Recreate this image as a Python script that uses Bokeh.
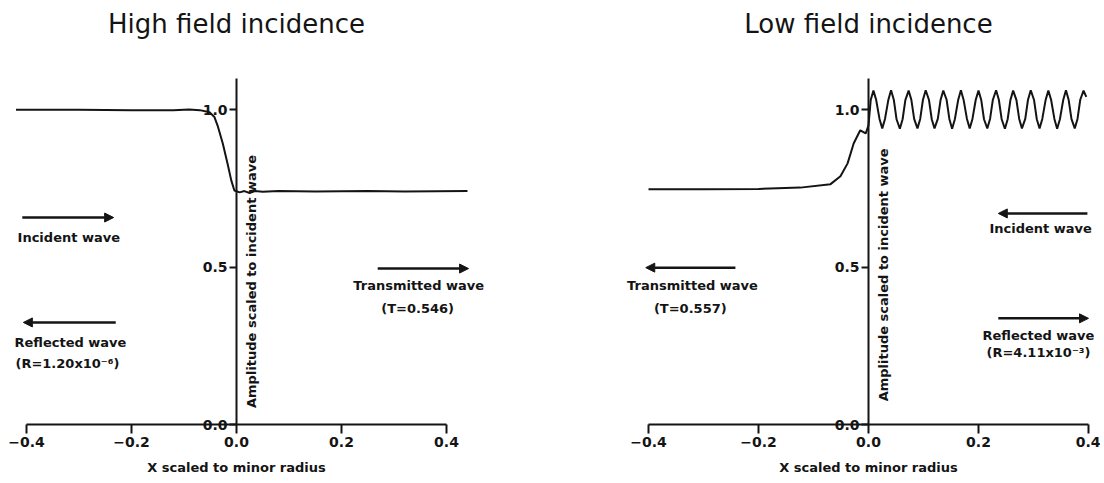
import math
from bokeh.plotting import figure
from bokeh.layouts import row
from bokeh.models import (LinearAxis, FixedTicker, CustomJSTickFormatter, Label,
                          Arrow, NormalHead, Range1d)
from bokeh.embed import file_html
from bokeh.resources import INLINE

# ---------------- data ----------------
titles = ["High field incidence", "Low field incidence"]
x_axis_label = "X scaled to minor radius"
y_axis_label = "Amplitude scaled to incident wave"

x_ticks = [-0.4, -0.2, 0.0, 0.2, 0.4]
x_tick_labels = ["\u22120.4", "\u22120.2", "0.0", "0.2", "0.4"]
y_ticks = [0.0, 0.5, 1.0]
y_tick_labels = ["0.0", "0.5", "1.0"]

# High field incidence: amplitude profile
left_x = [-0.420, -0.300, -0.200, -0.120, -0.090, -0.070, -0.051, -0.042, -0.036,
          -0.026, -0.017, -0.010, -0.004, 0.006, 0.015, 0.025, 0.035, 0.050,
          0.080, 0.150, 0.250, 0.320, 0.440]
left_y = [0.999, 0.999, 0.998, 0.998, 1.000, 0.998, 0.991, 0.976, 0.949,
          0.891, 0.828, 0.775, 0.743, 0.737, 0.741, 0.735, 0.741, 0.739,
          0.741, 0.740, 0.741, 0.740, 0.741]

# Low field incidence: amplitude profile
right_x = [-0.400, -0.300, -0.200, -0.124, -0.069, -0.051, -0.038, -0.027, -0.015, -0.005, 0.000, 0.004,
           0.009, 0.014, 0.020, 0.025, 0.030, 0.036,
           0.041, 0.046, 0.051, 0.057, 0.062, 0.067,
           0.073, 0.078, 0.083, 0.089, 0.094, 0.099,
           0.104, 0.110, 0.115, 0.120, 0.126, 0.131,
           0.136, 0.142, 0.147, 0.152, 0.157, 0.163,
           0.168, 0.173, 0.179, 0.184, 0.189, 0.195,
           0.200, 0.205, 0.210, 0.216, 0.221, 0.226,
           0.232, 0.237, 0.242, 0.248, 0.253, 0.258,
           0.263, 0.269, 0.274, 0.279, 0.285, 0.290,
           0.295, 0.301, 0.306, 0.311, 0.316, 0.322,
           0.327, 0.332, 0.338, 0.343, 0.348, 0.354,
           0.359, 0.364, 0.369, 0.375, 0.380, 0.385,
           0.391, 0.396]
right_y = [0.747, 0.747, 0.748, 0.752, 0.763, 0.788, 0.829, 0.892, 0.934, 0.924, 0.950, 1.030,
           1.060, 1.030, 0.970, 0.940, 0.970, 1.030,
           1.061, 1.031, 0.969, 0.939, 0.969, 1.030,
           1.060, 1.030, 0.970, 0.940, 0.970, 1.031,
           1.061, 1.030, 0.969, 0.940, 0.970, 1.030,
           1.060, 1.031, 0.970, 0.939, 0.969, 1.030,
           1.061, 1.030, 0.970, 0.940, 0.970, 1.031,
           1.060, 1.030, 0.969, 0.940, 0.970, 1.030,
           1.061, 1.031, 0.970, 0.939, 0.969, 1.030,
           1.060, 1.030, 0.970, 0.940, 0.970, 1.031,
           1.061, 1.030, 0.969, 0.940, 0.970, 1.030,
           1.060, 1.031, 0.970, 0.939, 0.969, 1.030,
           1.061, 1.030, 0.970, 0.940, 0.970, 1.031,
           1.060, 1.040]

left_notes = ["Incident wave", "Reflected wave", "(R=1.20x10\u207b\u2076)",
              "Transmitted wave", "(T=0.546)"]
right_notes = ["Incident wave", "Transmitted wave", "(T=0.557)",
               "Reflected wave", "(R=4.11x10\u207b\u00b3)"]

# ---------------- styling ----------------
FONT = "DejaVu Sans"
INK = "#141414"
H = 480
PX_PER_Y = 315.0
Y0_PX = 424.0
TOP_PX = 0.0
NOTE_SIZE = "13px"
NOTE_STYLE = "bold"


def make_fig(width, x_start, x_end):
    y_end = (Y0_PX - TOP_PX) / PX_PER_Y
    y_start = -(TOP_PX + H - Y0_PX) / PX_PER_Y
    p = figure(width=width, height=H, x_range=Range1d(x_start, x_end),
               y_range=Range1d(y_start, y_end), x_axis_type=None, y_axis_type=None,
               toolbar_location=None, output_backend="svg", min_border=0)
    p.outline_line_color = None
    p.background_fill_color = "white"
    p.border_fill_color = "white"

    code = "const i = t.findIndex(v => Math.abs(v - tick) < 1e-6); return i < 0 ? '' : l[i];"
    fmt_x = CustomJSTickFormatter(args=dict(t=x_ticks, l=x_tick_labels), code=code)
    fmt_y = CustomJSTickFormatter(args=dict(t=y_ticks, l=y_tick_labels), code=code)
    xa = LinearAxis(fixed_location=0, bounds=(x_ticks[0], x_ticks[-1]),
                    ticker=FixedTicker(ticks=x_ticks), formatter=fmt_x,
                    axis_label=x_axis_label)
    ya = LinearAxis(fixed_location=0, bounds=(0.0, 1.1),
                    ticker=FixedTicker(ticks=y_ticks), formatter=fmt_y)
    for ax in (xa, ya):
        ax.axis_line_width = 2
        ax.axis_line_color = INK
        ax.major_tick_line_width = 2
        ax.major_tick_line_color = INK
        ax.major_tick_in = 0
        ax.minor_tick_in = 0
        ax.minor_tick_out = 0
        ax.major_label_text_font = FONT
        ax.major_label_text_font_size = "14px"
        ax.major_label_text_font_style = "bold"
        ax.major_label_text_color = INK
        ax.axis_label_text_font = FONT
        ax.axis_label_text_font_size = NOTE_SIZE
        ax.axis_label_text_font_style = NOTE_STYLE
        ax.axis_label_text_color = INK
    xa.major_tick_out = 9
    xa.major_label_standoff = 3
    xa.axis_label_standoff = 10
    ya.major_tick_out = 7
    ya.major_label_standoff = 2
    p.add_layout(xa, "below")
    p.add_layout(ya, "left")
    return p


def label(p, x, y, text, align="center", size=NOTE_SIZE, angle=0.0, x_offset=0,
          style=NOTE_STYLE):
    p.add_layout(Label(x=x, y=y, text=text, text_font=FONT, text_font_size=size,
                       text_font_style=style, text_align=align, text_baseline="middle",
                       text_color=INK, angle=angle, x_offset=x_offset))


def arrow(p, x0, x1, y):
    p.add_layout(Arrow(end=NormalHead(size=9, fill_color=INK, line_color=INK, line_width=1),
                       x_start=x0, y_start=y, x_end=x1, y_end=y,
                       line_width=2.5, line_color=INK))


# ---- left panel ----
W1 = 548
s1 = 525.0
x0_1 = 236.0
p1 = make_fig(W1, (0 - x0_1) / s1, (W1 - x0_1) / s1)
p1.line(left_x, left_y, line_width=2, line_color=INK)
label(p1, 0.0, 1.270, titles[0], size="26px", style="normal")
label(p1, 0.0, 0.454, y_axis_label, angle=math.pi / 2, x_offset=15)
arrow(p1, -0.408, -0.234, 0.657)
label(p1, -0.417, 0.594, left_notes[0], align="left")
arrow(p1, -0.230, -0.406, 0.324)
label(p1, -0.423, 0.260, left_notes[1], align="left")
label(p1, -0.421, 0.194, left_notes[2], align="left")
arrow(p1, 0.269, 0.442, 0.495)
label(p1, 0.347, 0.441, left_notes[3])
label(p1, 0.345, 0.368, left_notes[4])

# ---- right panel ----
W2 = 552
s2 = 550.0
x0_2 = 868.0
start2 = W1
p2 = make_fig(W2, (start2 - x0_2) / s2, (start2 + W2 - x0_2) / s2)
p2.line(right_x, right_y, line_width=2, line_color=INK)
label(p2, 0.0, 1.273, titles[1], size="26px", style="normal")
label(p2, 0.0, 0.475, y_axis_label, angle=math.pi / 2, x_offset=15)
arrow(p2, 0.398, 0.236, 0.670)
label(p2, 0.313, 0.622, right_notes[0])
arrow(p2, -0.242, -0.405, 0.498)
label(p2, -0.320, 0.441, right_notes[1])
label(p2, -0.324, 0.368, right_notes[2])
arrow(p2, 0.236, 0.400, 0.337)
label(p2, 0.309, 0.283, right_notes[3])
label(p2, 0.309, 0.229, right_notes[4])

layout = row(p1, p2, spacing=0)
open("out.html", "w").write(file_html(layout, INLINE))
